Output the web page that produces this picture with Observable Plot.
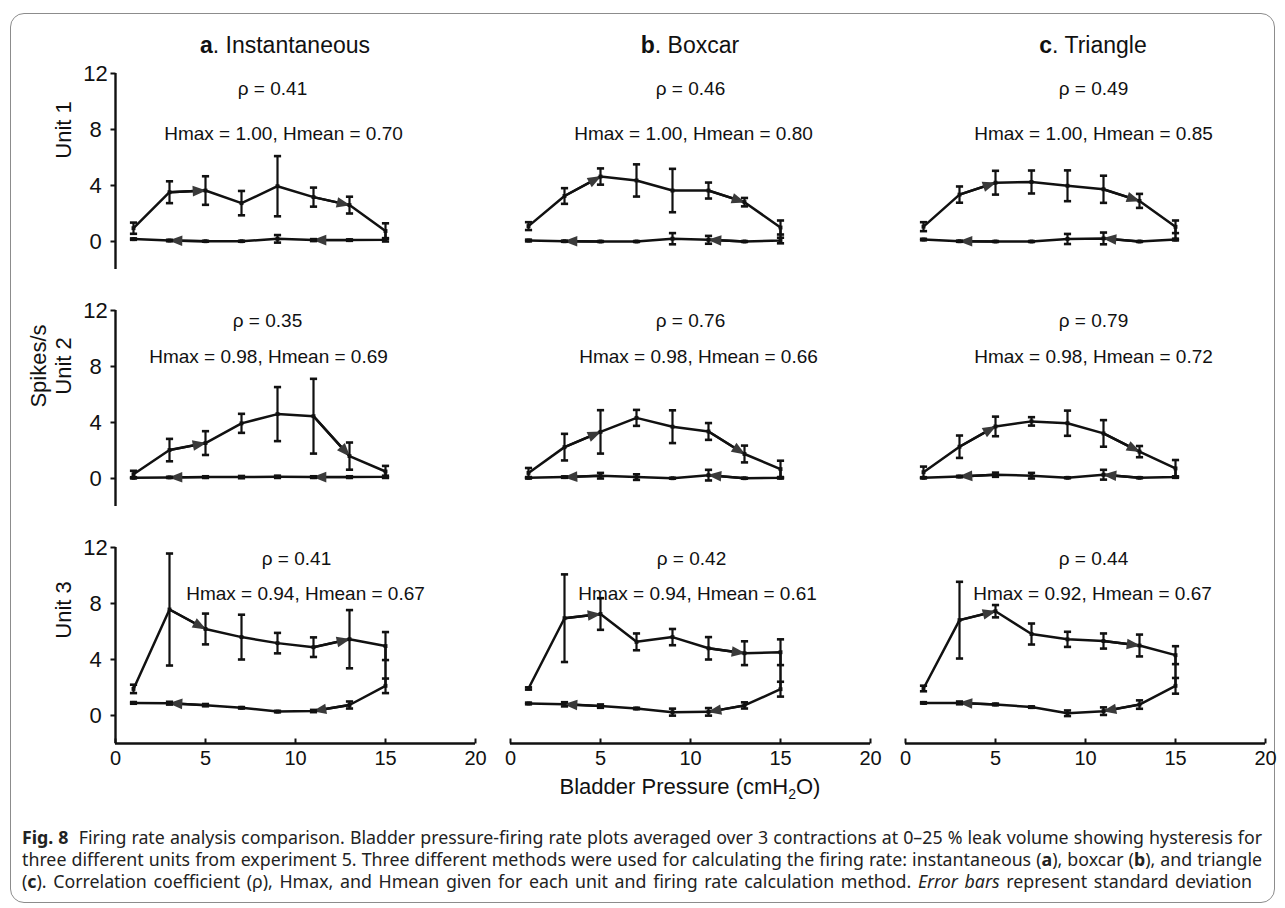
<!DOCTYPE html>
<html><head><meta charset="utf-8">
<script src="https://cdn.jsdelivr.net/npm/d3@7"></script>
<script src="https://cdn.jsdelivr.net/npm/@observablehq/plot@0.6"></script>
<style>
html,body{margin:0;padding:0;background:#fff;}
body{width:1285px;height:908px;position:relative;overflow:hidden;font-family:"Liberation Sans",Arial,sans-serif;color:#111;}
#frame{position:absolute;left:10px;top:13px;width:1265px;height:890px;border:1.5px solid #8c8c8c;border-radius:14px;box-sizing:border-box;}
.abs{position:absolute;}
.title{position:absolute;width:400px;text-align:center;font-size:23px;line-height:26px;white-space:nowrap;}
.ylab{position:absolute;font-size:22px;line-height:24px;white-space:nowrap;transform:translate(-50%,-50%) rotate(-90deg);}
.xlab{position:absolute;width:600px;text-align:center;font-size:22px;line-height:26px;white-space:nowrap;}
.xlab sub{font-size:14px;vertical-align:-5px;line-height:0;}
#caption{position:absolute;left:22px;width:1240px;font-family:"Noto Sans","Open Sans",sans-serif;color:#222;}
#caption div{white-space:nowrap;line-height:22px;}
#caption .j{text-align:justify;text-align-last:justify;}
#caption .last{width:1230px;}
</style>
</head><body>
<div id="frame"></div>
<div id="root"></div>
<script>
// ---------- data ----------
const methodLetters = ["a", "b", "c"];
const methodNames = ["Instantaneous", "Boxcar", "Triangle"];
const unitNames = ["Unit 1", "Unit 2", "Unit 3"];
const pressure = [1, 3, 5, 7, 9, 11, 13, 15];
const xTicks = [0, 5, 10, 15, 20];
const yTicks = [0, 4, 8, 12];
const rhoValues = [["0.41", "0.46", "0.49"], ["0.35", "0.76", "0.79"], ["0.41", "0.42", "0.44"]];
const hmaxValues = [["1.00", "1.00", "1.00"], ["0.98", "0.98", "0.98"], ["0.94", "0.94", "0.92"]];
const hmeanValues = [["0.70", "0.80", "0.85"], ["0.69", "0.66", "0.72"], ["0.67", "0.61", "0.67"]];

// Unit 1
const instU1Up = [0.95, 3.52, 3.64, 2.74, 3.95, 3.17, 2.6, 0.75];
const instU1UpSD = [0.4, 0.78, 1.02, 0.87, 2.15, 0.68, 0.6, 0.55];
const instU1Down = [0.17, 0.07, 0.02, 0.02, 0.19, 0.1, 0.1, 0.12];
const instU1DownSD = [0.05, 0.05, 0.03, 0.03, 0.27, 0.07, 0.05, 0.12];
const boxU1Up = [1.1, 3.25, 4.64, 4.36, 3.64, 3.64, 2.81, 1.0];
const boxU1UpSD = [0.28, 0.56, 0.58, 1.15, 1.55, 0.57, 0.3, 0.5];
const boxU1Down = [0.07, 0.02, 0.0, 0.0, 0.2, 0.12, 0.0, 0.07];
const boxU1DownSD = [0.06, 0.04, 0.03, 0.03, 0.4, 0.28, 0.03, 0.2];
const triU1Up = [1.06, 3.35, 4.2, 4.25, 3.98, 3.73, 2.9, 1.05];
const triU1UpSD = [0.32, 0.58, 0.85, 0.82, 1.1, 0.97, 0.5, 0.45];
const triU1Down = [0.14, 0.02, 0.0, 0.0, 0.18, 0.22, 0.0, 0.14];
const triU1DownSD = [0.05, 0.04, 0.03, 0.03, 0.36, 0.42, 0.03, 0.06];
// Unit 2
const instU2Up = [0.3, 2.03, 2.53, 3.94, 4.6, 4.45, 1.6, 0.5];
const instU2UpSD = [0.25, 0.8, 0.85, 0.68, 1.93, 2.67, 0.97, 0.4];
const instU2Down = [0.05, 0.08, 0.1, 0.1, 0.12, 0.1, 0.1, 0.12];
const instU2DownSD = [0.04, 0.04, 0.06, 0.08, 0.08, 0.06, 0.06, 0.08];
const boxU2Up = [0.4, 2.24, 3.33, 4.33, 3.7, 3.36, 1.75, 0.67];
const boxU2UpSD = [0.35, 0.95, 1.55, 0.57, 1.17, 0.6, 0.6, 0.6];
const boxU2Down = [0.05, 0.1, 0.2, 0.1, 0.02, 0.24, 0.02, 0.05];
const boxU2DownSD = [0.05, 0.05, 0.2, 0.2, 0.03, 0.38, 0.03, 0.05];
const triU2Up = [0.45, 2.27, 3.72, 4.08, 3.95, 3.22, 1.92, 0.72];
const triU2UpSD = [0.4, 0.8, 0.7, 0.3, 0.9, 0.95, 0.4, 0.6];
const triU2Down = [0.05, 0.14, 0.27, 0.2, 0.05, 0.27, 0.05, 0.1];
const triU2DownSD = [0.04, 0.05, 0.15, 0.2, 0.03, 0.35, 0.03, 0.05];
// Unit 3
const instU3Up = [1.9, 7.57, 6.18, 5.6, 5.17, 4.88, 5.45, 4.96];
const instU3UpSD = [0.3, 4.0, 1.1, 1.6, 0.73, 0.7, 2.08, 1.0];
const instU3Down = [0.9, 0.88, 0.74, 0.55, 0.28, 0.32, 0.75, 2.12];
const instU3DownSD = [0.06, 0.1, 0.08, 0.05, 0.05, 0.08, 0.25, 0.52];
const boxU3Up = [1.93, 6.95, 7.25, 5.26, 5.6, 4.8, 4.45, 4.52];
const boxU3UpSD = [0.08, 3.13, 1.13, 0.6, 0.58, 0.8, 0.85, 0.92];
const boxU3Down = [0.86, 0.8, 0.67, 0.5, 0.24, 0.26, 0.72, 1.88];
const boxU3DownSD = [0.06, 0.15, 0.12, 0.05, 0.25, 0.27, 0.22, 0.53];
const triU3Up = [1.93, 6.81, 7.45, 5.82, 5.44, 5.32, 5.0, 4.31];
const triU3UpSD = [0.2, 2.74, 0.44, 0.75, 0.54, 0.54, 0.78, 0.64];
const triU3Down = [0.9, 0.9, 0.79, 0.6, 0.16, 0.31, 0.78, 2.12];
const triU3DownSD = [0.05, 0.1, 0.06, 0.05, 0.2, 0.27, 0.3, 0.56];

const panelSeries = [
  [[instU1Up, instU1UpSD, instU1Down, instU1DownSD], [boxU1Up, boxU1UpSD, boxU1Down, boxU1DownSD], [triU1Up, triU1UpSD, triU1Down, triU1DownSD]],
  [[instU2Up, instU2UpSD, instU2Down, instU2DownSD], [boxU2Up, boxU2UpSD, boxU2Down, boxU2DownSD], [triU2Up, triU2UpSD, triU2Down, triU2DownSD]],
  [[instU3Up, instU3UpSD, instU3Down, instU3DownSD], [boxU3Up, boxU3UpSD, boxU3Down, boxU3DownSD], [triU3Up, triU3UpSD, triU3Down, triU3DownSD]]
];

// ---------- layout (styles only) ----------
const colX0 = [115, 510, 905];   // page x of pressure 0
const rowTop = [73, 310, 547];   // page y of 12 spikes/s
const PW = 360, PH = 196;
const textDy = [[8, 53], [3, 39], [4, 39]];
const textDx = [
  [[-23, -12], [0, 3], [8, 8]],
  [[-28, -27], [0, 8], [8, 8]],
  [[1, 10], [1, 7], [8, 7]]
];
const INK = "#111";

const capSym = {draw(ctx, size) { const r = Math.sqrt(size / Math.PI); ctx.moveTo(-r, 0); ctx.lineTo(r, 0); }};
const tickUpSym = {draw(ctx, size) { const r = Math.sqrt(size / Math.PI); ctx.moveTo(0, 0); ctx.lineTo(0, -r); }};
const tickLeftSym = {draw(ctx, size) { const r = Math.sqrt(size / Math.PI); ctx.moveTo(0, 0); ctx.lineTo(-r, 0); }};

const root = document.getElementById("root");

function makePanel(r, c) {
  const [up, upSD, dn, dnSD] = panelSeries[r][c];
  const upPts = pressure.map((p, i) => ({x: p, y: up[i], sd: upSD[i]}));
  const dnPts = pressure.map((p, i) => ({x: p, y: dn[i], sd: dnSD[i]}));
  const loop = upPts.concat(dnPts.slice().reverse());
  const pts = upPts.concat(dnPts);
  const arrows = [[upPts[1], upPts[2]], [upPts[5], upPts[6]], [dnPts[2], dnPts[1]], [dnPts[6], dnPts[5]]];
  const ml = c === 0 ? 75 : 15, mr = 15, mt = 12, mb = r === 2 ? 50 : 12;
  const bottom = r === 2;
  const marks = [];
  if (c === 0) {
    marks.push(Plot.ruleX([0], {stroke: INK, strokeWidth: 2.4}));
    marks.push(Plot.dot(yTicks, {y: d => d, frameAnchor: "left", symbol: tickLeftSym, r: 5, stroke: INK, strokeWidth: 2, fill: "none"}));
    marks.push(Plot.text(yTicks, {y: d => d, text: d => String(d), frameAnchor: "left", dx: -20, textAnchor: "middle", fontSize: 22, fill: INK}));
  }
  if (bottom) {
    marks.push(Plot.ruleY([-2], {stroke: INK, strokeWidth: 2.4}));
    marks.push(Plot.dot(xTicks, {x: d => d, frameAnchor: "bottom", symbol: tickUpSym, r: 5, stroke: INK, strokeWidth: 2, fill: "none"}));
  }
  marks.push(
    Plot.ruleX(pts, {x: "x", y1: d => d.y - d.sd, y2: d => d.y + d.sd, stroke: INK, strokeWidth: 2.2}),
    Plot.line(loop, {x: "x", y: "y", stroke: INK, strokeWidth: 2.5, strokeLinejoin: "round"}),
    Plot.link(arrows, {x1: d => d[0].x, y1: d => d[0].y, x2: d => d[1].x, y2: d => d[1].y, stroke: INK, strokeWidth: 2.4, markerEnd: "arrow"}),
    Plot.dot(pts, {x: "x", y: d => d.y - d.sd, symbol: capSym, r: 3.6, stroke: INK, strokeWidth: 2.6, fill: "none"}),
    Plot.dot(pts, {x: "x", y: d => d.y + d.sd, symbol: capSym, r: 3.6, stroke: INK, strokeWidth: 2.6, fill: "none"}),
    Plot.dot(pts, {x: "x", y: "y", symbol: "square", r: 2.2, fill: INK, stroke: "none"}),
    Plot.text([`ρ = ${rhoValues[r][c]}`], {text: d => d, frameAnchor: "top", dy: textDy[r][0], dx: textDx[r][c][0], fontSize: 19, fill: INK}),
    Plot.text([`Hmax = ${hmaxValues[r][c]}, Hmean = ${hmeanValues[r][c]}`], {text: d => d, frameAnchor: "top", dy: textDy[r][1], dx: textDx[r][c][1], fontSize: 19, fill: INK})
  );
  const svg = Plot.plot({
    width: ml + PW + mr, height: mt + PH + mb,
    marginLeft: ml, marginRight: mr, marginTop: mt, marginBottom: mb,
    x: bottom ? {domain: [0, 20], ticks: xTicks, tickSize: 0, tickPadding: 7, tickFormat: d => String(d), label: null}
              : {domain: [0, 20], axis: null},
    y: {domain: [-2, 12], axis: null},
    style: {fontFamily: '"Liberation Sans", Arial, sans-serif', fontSize: "20px", color: INK, background: "transparent", overflow: "visible"},
    marks
  });
  // filled arrowheads (tip at the data point)
  svg.querySelectorAll("marker").forEach(m => {
    m.setAttribute("viewBox", "-9 -5 10 10");
    m.setAttribute("fill", "#3a3a3a");
    m.setAttribute("stroke", "none");
    m.setAttribute("overflow", "visible");
    while (m.firstChild) m.removeChild(m.firstChild);
    const p = document.createElementNS("http://www.w3.org/2000/svg", "path");
    p.setAttribute("d", "M-8,-3.3L0.6,0L-8,3.3Z");
    m.appendChild(p);
  });
  const holder = document.createElement("div");
  holder.className = "abs";
  holder.style.left = (colX0[c] - ml) + "px";
  holder.style.top = (rowTop[r] - mt) + "px";
  holder.style.width = (ml + PW + mr) + "px";
  holder.appendChild(svg);
  root.appendChild(holder);
}

for (let r = 0; r < 3; r++) for (let c = 0; c < 3; c++) makePanel(r, c);

// column titles
const titleCenters = [285, 690, 1093];
methodNames.forEach((name, c) => {
  const d = document.createElement("div");
  d.className = "title";
  d.style.left = (titleCenters[c] - 200) + "px";
  d.style.top = "32px";
  d.innerHTML = `<b>${methodLetters[c]}</b>. ${name}`;
  root.appendChild(d);
});
// unit labels
const unitCenters = [130, 366, 610];
unitNames.forEach((u, r) => {
  const d = document.createElement("div");
  d.className = "ylab";
  d.style.left = "64px";
  d.style.top = unitCenters[r] + "px";
  d.textContent = u;
  root.appendChild(d);
});
const sp = document.createElement("div");
sp.className = "ylab";
sp.style.left = "39px";
sp.style.top = unitCenters[1] + "px";
sp.textContent = "Spikes/s";
root.appendChild(sp);
// x label
const xl = document.createElement("div");
xl.className = "xlab";
xl.style.left = (690 - 300) + "px";
xl.style.top = "774px";
xl.innerHTML = "Bladder Pressure (cmH<sub>2</sub>O)";
root.appendChild(xl);

// caption
const captionLines = [
  '<b>Fig. 8</b>&nbsp; Firing rate analysis comparison. Bladder pressure-firing rate plots averaged over 3 contractions at 0–25 % leak volume showing hysteresis for',
  'three different units from experiment 5. Three different methods were used for calculating the firing rate: instantaneous (<b>a</b>), boxcar (<b>b</b>), and triangle',
  '(<b>c</b>). Correlation coefficient (ρ), Hmax, and Hmean given for each unit and firing rate calculation method. <i>Error bars</i> represent standard deviation'
];
const cap = document.createElement("div");
cap.id = "caption";
cap.style.top = "826px";
captionLines.forEach((html, i) => {
  const d = document.createElement("div");
  d.className = i < 2 ? "j" : "j last";
  d.innerHTML = html;
  cap.appendChild(d);
});
root.appendChild(cap);
// fit caption font so the longest full line fills the caption width
let maxW = 0;
captionLines.slice(0, 2).forEach(html => {
  const probe = document.createElement("span");
  probe.style.cssText = 'position:absolute;visibility:hidden;white-space:nowrap;font-family:"Noto Sans","Open Sans",sans-serif;font-size:16px;';
  probe.innerHTML = html;
  document.body.appendChild(probe);
  maxW = Math.max(maxW, probe.getBoundingClientRect().width);
  probe.remove();
});
cap.style.fontSize = (16 * 1232 / maxW).toFixed(2) + "px";
</script>
</body></html>
